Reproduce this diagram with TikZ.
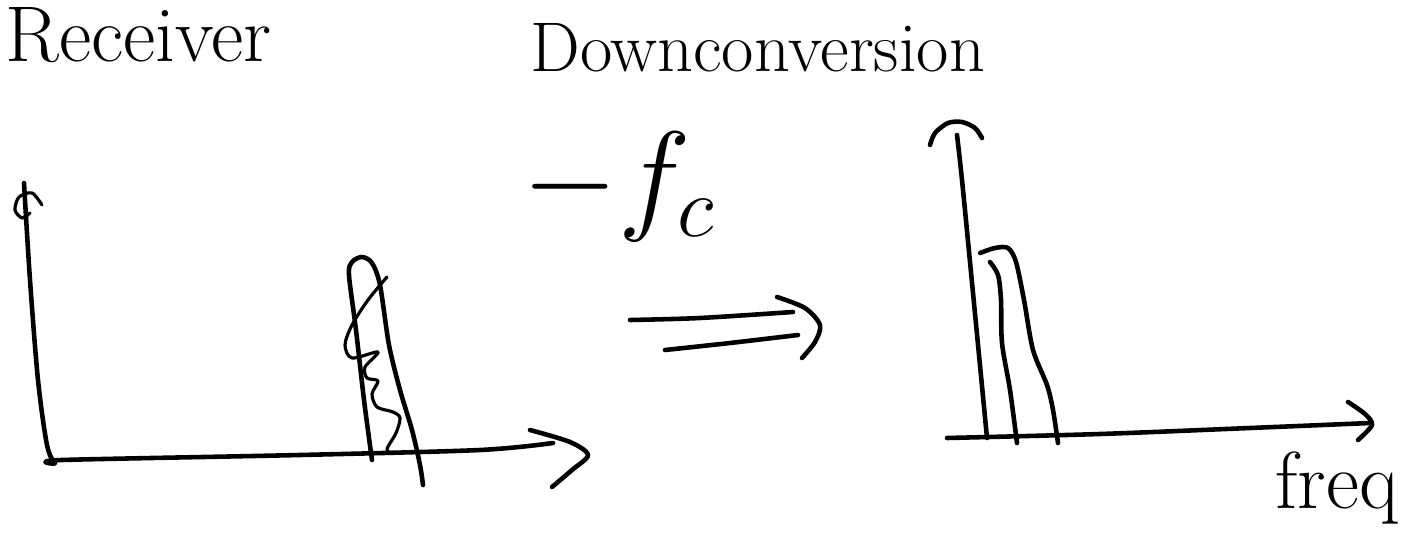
\RequirePackage{fix-cm}
\documentclass[tikz,border=0pt]{standalone}
\usepackage{fontspec}

\begin{document}
\begin{tikzpicture}[x=0.02cm,y=-0.02cm,line cap=round,line join=round,
  pen/.style={line width=2.6pt},thin pen/.style={line width=1.8pt},
  every node/.style={inner sep=0pt}]
  \useasboundingbox (0,0) rectangle (1413,547);
  % headings
  \node[anchor=base west,font=\fontsize{45}{48}\selectfont] (receiver) at (5,62) {Receiver};
  \node[anchor=base west,font=\fontsize{40}{42}\selectfont] (title) at (530,72) {Downconversion};
  \node[anchor=base west,font=\fontsize{70}{72}\selectfont] (shift) at (522,218) {$-f_c$};
  \node[anchor=base west,font=\fontsize{46}{48}\selectfont] (freq) at (1275,508) {freq};
  % left spectrum
  \draw[pen] plot[smooth] coordinates {(24,183) (30,280) (38,380) (47,445) (55,463) (62,460) (300,455) (480,450) (553,443)};
  \draw[pen] plot[smooth] coordinates {(530,430) (570,442) (588,455) (572,470) (552,487)};
  \draw[thin pen] plot[smooth] coordinates {(42,205) (32,193) (19,197) (15,210) (22,218) (30,213)};
  \draw[pen] plot[smooth] coordinates {(372,460) (364,400) (356,330) (349,275) (352,262) (362,257) (372,263) (380,285) (389,345) (400,390) (412,430) (420,465) (423,485)};
  \draw[thin pen] plot[smooth] coordinates {(387,277) (368,300) (352,325) (345,345) (352,358) (378,352) (365,367) (367,378) (378,381) (372,394) (377,407) (393,412) (400,418) (396,433) (387,449) (392,453)};
  % shift arrow
  \draw[pen] plot[smooth] coordinates {(630,320) (700,318) (793,312)};
  \draw[pen] plot[smooth] coordinates {(665,350) (730,343) (798,335)};
  \draw[pen] plot[smooth] coordinates {(777,297) (805,308) (820,325) (815,342) (802,358)};
  % right spectrum
  \draw[pen] plot[smooth] coordinates {(987,438) (973,293) (962,180) (957,135)};
  \draw[pen] plot[smooth] coordinates {(930,145) (935,133) (948,123) (962,122) (975,128) (982,138)};
  \draw[pen] plot[smooth] coordinates {(947,438) (1100,434) (1250,428) (1370,423)};
  \draw[pen] plot[smooth] coordinates {(1348,402) (1365,414) (1372,425) (1358,440)};
  \draw[pen] plot[smooth] coordinates {(980,253) (995,248) (1008,248) (1016,262) (1024,300) (1033,350) (1047,385) (1053,410) (1058,443)};
  \draw[pen] plot[smooth] coordinates {(990,262) (998,275) (1001,300) (1002,343) (1010,390) (1017,443)};
\end{tikzpicture}
\end{document}
